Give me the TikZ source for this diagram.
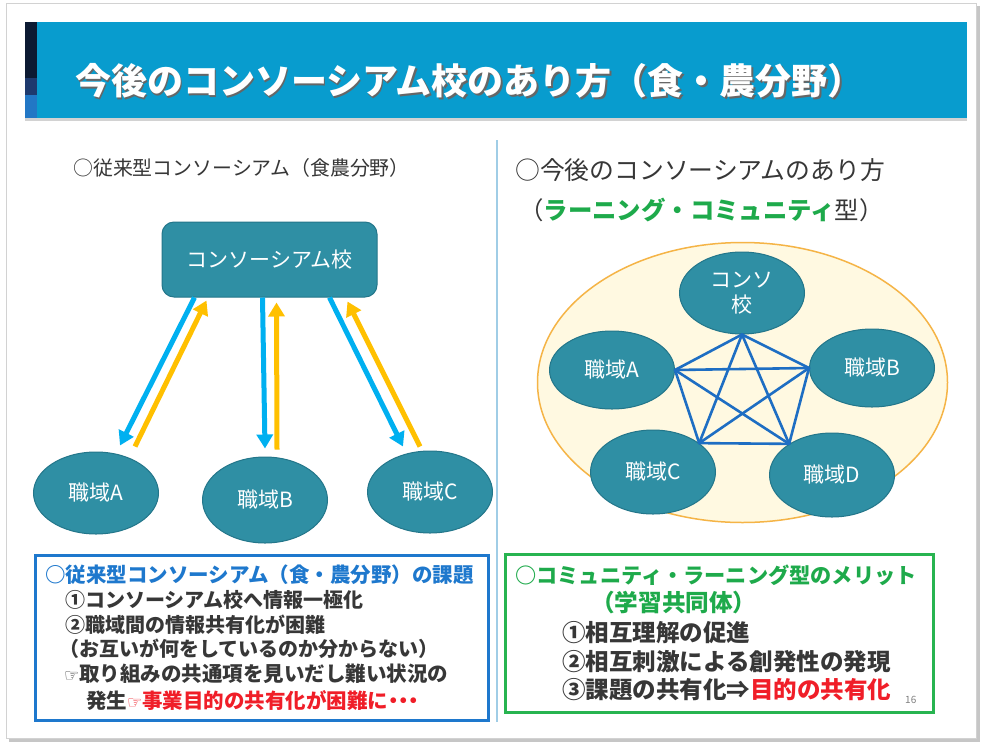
\documentclass[tikz,border=0pt]{standalone}
\usepackage{fontspec}
\setmainfont{Noto Sans CJK JP}
\newfontfamily\dejavu{DejaVu Sans}
\usetikzlibrary{arrows.meta,shapes.geometric}
\definecolor{titleblue}{RGB}{8,156,206}
\definecolor{navy}{RGB}{12,26,50}
\definecolor{midnavy}{RGB}{30,58,110}
\definecolor{stripblue}{RGB}{34,119,197}
\definecolor{tealc}{RGB}{47,143,164}
\definecolor{tealb}{RGB}{35,118,138}
\definecolor{arrblue}{RGB}{0,176,240}
\definecolor{arryel}{RGB}{255,192,0}
\definecolor{starblue}{RGB}{30,110,195}
\definecolor{cream}{RGB}{255,249,225}
\definecolor{orangeb}{RGB}{245,180,70}
\definecolor{boxblue}{RGB}{30,120,205}
\definecolor{boxgreen}{RGB}{40,180,80}
\definecolor{hgreen}{RGB}{30,170,75}
\definecolor{dtext}{RGB}{55,55,55}
\definecolor{redt}{RGB}{240,30,40}
\definecolor{divline}{RGB}{160,205,230}
\newcommand{\myhand}{{\dejavu\bfseries\fontsize{17}{18}\selectfont ☞}}
\newcommand{\mydot}{\makebox[0.5em]{・}}
\begin{document}
\begin{tikzpicture}[x=1pt,y=-1pt,
  tealfill/.style={fill=tealc, draw=tealb, line width=1pt, text=white},
  ell/.style={tealfill, ellipse, minimum width=125pt, minimum height=82pt, inner sep=0pt, font=\fontsize{21}{24}\selectfont},
  barrow/.style={draw=arrblue, line width=5pt, -{Triangle[width=16pt,length=14pt]}},
  yarrow/.style={draw=arryel, line width=5pt, -{Triangle[width=16pt,length=14pt]}},
  staredge/.style={draw=starblue, line width=2.6pt, line cap=round},
  txt/.style={anchor=west, inner sep=0pt},
  fs/.style={font=\fontsize{#1}{#1}\selectfont},
]
\useasboundingbox (0,0) rectangle (985,745);
% slide frame
\fill[white] (0,0) rectangle (985,745);
\fill[gray!45] (9,6) rectangle (980,742);
\filldraw[fill=white, draw=gray!35] (6,3) rectangle (976,738);
% title bar
\fill[gray!35] (25,118) rectangle (967,121);
\fill[titleblue] (25,22) rectangle (967,118);
\fill[navy] (25,22) rectangle (37,78);
\fill[midnavy] (25,78) rectangle (37,95);
\fill[stripblue] (25,95) rectangle (37,118);
\node[txt, text=black!60, font=\bfseries\fontsize{36}{37}\selectfont] (titleshadow) at (76.5,82.5) {今後のコンソーシアム校のあり方（食・農分野）};
\node[txt, text=white, font=\bfseries\fontsize{36}{37}\selectfont] (title) at (75,81) {今後のコンソーシアム校のあり方（食・農分野）};
% divider
\draw[divline, line width=1.2pt] (497,140) -- (497,722);
% left side
\node[txt, fs=19.9, text=dtext] (lhead) at (73,168) {○従来型コンソーシアム（食農分野）};
\node[tealfill, rounded corners=12pt, minimum width=215pt, minimum height=75pt, font=\fontsize{21}{24}\selectfont] (box) at (269.5,259.5) {コンソーシアム校};
\node[ell] (LA) at (96,493) {職域A};
\node[ell, minimum height=86pt] (LB) at (265,500) {職域B};
\node[ell] (LC) at (430,492) {職域C};
\draw[barrow] ([xshift=33pt]box.south west) -- ([xshift=24pt,yshift=6pt]LA.north);
\draw[yarrow] ([xshift=39pt,yshift=5pt]LA.north) -- ([xshift=45pt,yshift=-3pt]box.south west);
\draw[barrow] ([xshift=101pt]box.south west) -- ([yshift=8pt]LB.north);
\draw[yarrow] ([xshift=12pt,yshift=7pt]LB.north) -- ([xshift=115pt,yshift=-5pt]box.south west);
\draw[barrow] ([xshift=168pt]box.south west) -- ([xshift=-27pt,yshift=4pt]LC.north);
\draw[yarrow] ([xshift=-10pt,yshift=4pt]LC.north) -- ([xshift=186pt,yshift=-4pt]box.south west);
% right side
\node[txt, fs=24.8, text=dtext] (rhead) at (515,170) {○今後のコンソーシアムのあり方};
\node[txt, fs=24.4, text=dtext] (rsub) at (519,210) {（\textcolor{hgreen}{\bfseries ラーニング・コミュニティ}型）};
\node[ellipse, draw=orangeb, fill=cream, line width=1.5pt, minimum width=410pt, minimum height=280pt] (big) at (742.5,382.5) {};
\node[ell, align=center, font=\fontsize{21}{25}\selectfont] (ko) at (742,293) {コンソ\\校};
\node[ell, minimum height=78pt] (RA) at (612,370) {職域A};
\node[ell, minimum height=78pt] (RB) at (872,368) {職域B};
\node[ell, minimum height=84pt] (RC) at (653,472) {職域C};
\node[ell, minimum height=84pt] (RD) at (832,475) {職域D};
\draw[staredge] (ko.south) -- (RA.east);
\draw[staredge] (ko.south) -- (RB.west);
\draw[staredge] (ko.south) -- (RC.32);
\draw[staredge] (ko.south) -- (RD.144);
\draw[staredge] (RA.east) -- (RB.west);
\draw[staredge] (RA.east) -- (RC.32);
\draw[staredge] (RA.east) -- (RD.144);
\draw[staredge] (RB.west) -- (RC.32);
\draw[staredge] (RB.west) -- (RD.144);
\draw[staredge] (RC.32) -- (RD.144);
% left bottom box
\node[draw=boxblue, line width=3pt, minimum width=453pt, minimum height=165pt, inner sep=0pt] (lbox) at (261.5,637.5) {};
\node[txt, text=boxblue, font=\bfseries\fontsize{20.5}{22}\selectfont] (l1) at (45,575) {○従来型コンソーシアム（食・農分野）の課題};
\node[txt, text=dtext, font=\bfseries\fontsize{20}{22}\selectfont] (l2) at (65,600) {①コンソーシアム校へ情報一極化};
\node[txt, text=dtext, font=\bfseries\fontsize{20}{22}\selectfont] (l3) at (65,625) {②職域間の情報共有化が困難};
\node[txt, text=dtext, font=\bfseries\fontsize{20}{22}\selectfont] (l4) at (59,649) {（お互いが何をしているのか分からない）};
\node[txt, text=dtext, font=\bfseries\fontsize{20.5}{22}\selectfont] (l5) at (64,674) {\myhand 取り組みの共通項を見いだし難い状況の};
\node[txt, text=dtext, font=\bfseries\fontsize{20.5}{22}\selectfont] (l6) at (86,701) {発生\textcolor{redt}{\myhand 事業目的の共有化が困難に\mydot\mydot\mydot}};
% right bottom box
\node[draw=boxgreen, line width=3pt, minimum width=428pt, minimum height=158pt, inner sep=0pt] (rbox) at (719,633) {};
\node[txt, text=hgreen, font=\bfseries\fontsize{21.2}{22}\selectfont] (r1) at (515,575) {○コミュニティ・ラーニング型のメリット};
\node[txt, text=hgreen, font=\bfseries\fontsize{23.6}{24}\selectfont] (r2) at (591,603) {（学習共同体）};
\node[txt, text=dtext, font=\bfseries\fontsize{23.5}{24}\selectfont] (r3) at (562,633) {①相互理解の促進};
\node[txt, text=dtext, font=\bfseries\fontsize{23.5}{24}\selectfont] (r4) at (562,662) {②相互刺激による創発性の発現};
\node[txt, text=dtext, font=\bfseries\fontsize{23.5}{24}\selectfont] (r5) at (562,690) {③課題の共有化⇒\textcolor{redt}{目的の共有化}};
\node[txt, text=gray, font=\fontsize{10}{11}\selectfont] (pg) at (905,700) {16};
\end{tikzpicture}
\end{document}
